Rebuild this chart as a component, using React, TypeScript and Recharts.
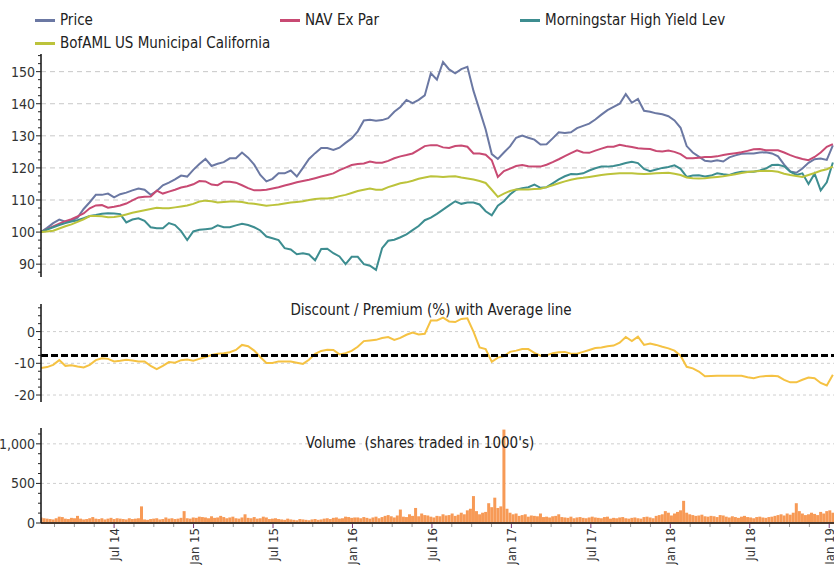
import React from 'react';
import {
  LineChart,
  ComposedChart,
  Line,
  Bar,
  XAxis,
  YAxis,
  CartesianGrid,
  ReferenceLine,
} from 'recharts';

const FONT = '"Liberation Sans Narrow", "DejaVu Sans Condensed", "Arial Narrow", "Liberation Sans", sans-serif';

// time axis in decimal years, first point ~15 Jan 2014
const START = 2014.04;
const X_DOMAIN = [2014.04, 2019.03];
const X_TICKS = [2014.5, 2015, 2015.5, 2016, 2016.5, 2017, 2017.5, 2018, 2018.5, 2019];
const X_LABELS = ['Jul 14', 'Jan 15', 'Jul 15', 'Jan 16', 'Jul 16', 'Jan 17', 'Jul 17', 'Jan 18', 'Jul 18', 'Jan 19'];

// fortnightly values, rebased to 100
const PRICE = [
  100, 101.3, 102.8, 103.9, 103.2, 103.6, 104.5, 107.2, 109.3, 111.6, 111.6, 112, 110.8, 111.8, 112.3, 113, 113.6, 113.2, 111.6, 112.8,
  114.6, 115.4, 116.4, 117.6, 117.3, 119.4, 121.2, 122.8, 120.6, 121.3, 121.8, 123, 123, 124.8, 123.2, 121, 117.8, 115.8, 116.6, 118.3,
  118.3, 119.2, 117.3, 120, 122.8, 124.6, 126.2, 126.2, 125.6, 126.3, 127.8, 129.2, 131.4, 134.8, 135, 134.7, 134.9, 135.5, 137.5, 139,
  141.2, 140.2, 141.2, 142.6, 149.5, 147.5, 153, 150.7, 149.5, 150.8, 151.5, 144, 138, 132, 124.3, 122.8, 124.8, 126.7, 129.4, 130.1,
  129.4, 128.8, 127.3, 127.4, 129.2, 131.1, 130.9, 131.1, 132.4, 133.1, 133.8, 135.1, 136.6, 138, 139, 140, 143, 140.3, 141.5, 137.8,
  137.5, 137, 136.7, 136.1, 134.8, 132.5, 126.8, 124.8, 123.5, 122.2, 122, 122.4, 122, 123.3, 123.9, 124.4, 124.5, 124.5, 124.8, 124.9,
  124.5, 123.6, 121, 118.9, 118.5, 119.8, 121.6, 122.7, 122.9, 122.5, 127,
];
const NAV = [
  100, 100.9, 101.8, 102.6, 103.4, 104, 104.9, 105.8, 107.4, 108.3, 108.4, 107.6, 107.9, 108.3, 108.9, 109.9, 110.8, 111, 111.1, 112.9,
  112, 112.6, 113.2, 113.9, 114.3, 114.9, 115.9, 115.8, 114.8, 114.6, 115.7, 115.7, 115.4, 114.6, 113.7, 113, 113, 113.2, 113.6, 114,
  114.5, 115, 115.5, 115.9, 116.3, 116.8, 117.3, 117.8, 118.3, 119.3, 120.1, 120.9, 121.2, 121.4, 122, 121.6, 121.6, 122.2, 123, 123.6,
  124, 124.5, 125.6, 126.8, 127.1, 127.1, 126.4, 126.2, 126.8, 127, 126.6, 124.5, 124.5, 124.1, 122.4, 117.2, 119, 119.8, 120.6, 120.9,
  120.5, 120.4, 120.4, 121, 121.8, 122.7, 123.7, 124.6, 125.5, 124.8, 124.7, 125.4, 126, 126.6, 126.6, 127.2, 126.8, 126.5, 126.1, 126,
  125.9, 125.3, 125.1, 125.4, 125, 124.3, 123, 123, 123.2, 123.4, 123.4, 123.6, 124, 124.3, 124.6, 124.9, 125.3, 125.8, 125.9, 125.5,
  125.5, 125.5, 124.8, 124, 123.3, 122.8, 122.4, 123.4, 124.8, 126.6, 127.4,
];
const MORNINGSTAR = [
  100, 100.8, 101.5, 102.2, 102.8, 103.3, 103.7, 104.3, 105, 105.3, 105.7, 105.9, 105.8, 105.6, 103, 103.9, 104.3, 103.5, 101.5, 101.2,
  101.2, 102.8, 102.2, 100.3, 97.5, 100.2, 100.7, 100.9, 101.1, 102.1, 101.5, 101.5, 102.1, 102.6, 102.2, 101.5, 100.5, 98.6, 98.1, 97.5,
  95, 94.6, 93.1, 93.4, 93, 91.2, 94.7, 94.8, 93.4, 92.4, 90, 92.3, 92.3, 90, 89.5, 88.2, 95, 97.3, 97.6, 98.4,
  99.3, 100.6, 101.9, 103.7, 104.5, 105.7, 107, 108.3, 109.6, 108.8, 109.2, 109.2, 108.6, 106.5, 105.2, 108.2, 109.6, 111.7, 113.2, 113.7,
  114, 114.8, 113.8, 114, 115.2, 116.4, 117.4, 118.1, 118, 118.3, 119.2, 119.9, 120.4, 120.4, 120.6, 121, 121.5, 121.9, 121.5, 119.7,
  119, 119.5, 120, 120.3, 120.8, 119.7, 117.2, 117.6, 117.7, 117.3, 117.6, 118.3, 118, 117.8, 118.4, 118.8, 118.8, 118.8, 119.2, 119.8,
  120.9, 121, 120.5, 118.8, 117.8, 118.3, 115, 118.2, 113, 115.5, 121.7,
];
const BOFAML = [
  100, 100.2, 100.4, 101.1, 101.8, 102.4, 103.2, 104, 105, 105, 104.9, 104.6, 104.7, 105, 105.5, 106, 106.4, 106.8, 107.2, 107.6,
  107.4, 107.4, 107.7, 108, 108.3, 108.8, 109.5, 109.8, 109.6, 109.2, 109.4, 109.5, 109.5, 109.4, 109, 108.8, 108.5, 108.2, 108.4, 108.6,
  108.9, 109.2, 109.4, 109.6, 110, 110.3, 110.5, 110.5, 110.7, 111.2, 111.6, 112.2, 112.8, 113.2, 113.6, 113.2, 113.2, 114, 114.6, 115.2,
  115.5, 116, 116.6, 117, 117.4, 117.3, 117.2, 117.3, 117.4, 117, 116.7, 116.4, 115.9, 115.3, 113.2, 111, 112, 112.8, 113.3, 113.3,
  113.3, 113.4, 113.5, 114, 114.6, 115.2, 115.8, 116.3, 116.7, 116.9, 117.2, 117.5, 117.8, 118, 118.2, 118.3, 118.3, 118.3, 118.2, 118.1,
  118.2, 118.3, 118.4, 118.5, 118.2, 117.8, 117, 116.8, 116.7, 116.8, 117, 117.2, 117.4, 117.7, 118, 118.4, 118.7, 118.9, 119, 119.1,
  119, 118.8, 118.2, 117.8, 117.5, 117.2, 117.8, 118.4, 119.1, 119.6, 120.4,
];
const DISCOUNT = [
  -11.5, -11.2, -10.5, -9, -10.8, -10.6, -11, -11.3, -10.5, -9, -8.4, -8.6, -9.4, -9.2, -8.9, -9.1, -9.4, -9.4, -10.8, -11.8,
  -10.8, -9.6, -9.8, -9, -8.8, -9.2, -8.6, -8, -7.4, -7, -6.8, -6.5, -5.8, -4.2, -4.6, -6, -8, -9.9, -9.9, -9.4,
  -9.4, -9.4, -9.8, -10.2, -8.9, -7, -6.1, -5.7, -5.8, -7.2, -6.8, -6.1, -4.8, -3, -2.8, -2.6, -2, -1.7, -2.6, -2,
  -1, -0.3, -0.9, -0.7, 3.5, 3.5, 4.4, 3.2, 3, 4, 4.2, 0, -5, -5.5, -9.5, -8.2, -7.7, -6.4, -6, -5.5,
  -5.5, -6.7, -7.6, -7.5, -6.8, -6.5, -6.4, -7, -7, -6.4, -5.8, -5.2, -5, -4.6, -4.4, -3.5, -1.7, -3, -1.6, -4.2,
  -3.8, -4.2, -4.8, -5.3, -6, -7.6, -11.1, -11.6, -12.6, -14.1, -14, -13.9, -13.9, -13.9, -13.9, -13.9, -14.4, -14.7, -14.2, -14,
  -13.9, -14.1, -15.2, -16, -16, -15.2, -14.5, -14.7, -16.2, -17, -13.6,
];
const DISCOUNT_AVG = -7.5;

// weekly volume, shares traded in 1000's
const VOLUME = [
  70, 60, 55, 50, 45, 60, 80, 75, 55, 50, 65, 60, 90, 55, 45, 50, 60, 75, 55, 50, 60, 45, 55, 65, 50, 60,
  55, 50, 45, 60, 50, 55, 60, 210, 45, 40, 50, 55, 60, 45, 50, 70, 55, 60, 50, 55, 65, 150, 60, 55, 70, 65,
  80, 75, 70, 60, 85, 65, 70, 90, 75, 60, 70, 80, 60, 55, 70, 110, 65, 60, 75, 55, 60, 80, 70, 50, 55, 60,
  50, 45, 40, 55, 45, 40, 35, 50, 45, 40, 35, 45, 50, 40, 45, 55, 60, 50, 65, 70, 55, 60, 80, 75, 65, 70,
  70, 60, 75, 65, 55, 70, 80, 60, 75, 90, 100, 85, 70, 95, 170, 80, 75, 110, 90, 190, 85, 120, 100, 95, 80, 70,
  90, 85, 110, 95, 100, 120, 90, 105, 130, 110, 160, 180, 340, 150, 110, 130, 140, 250, 200, 320, 190, 210, 1180, 180, 130, 110,
  120, 90, 100, 110, 80, 95, 90, 85, 120, 75, 80, 70, 85, 90, 110, 75, 70, 65, 80, 60, 70, 75, 65, 60, 70, 80,
  70, 65, 60, 75, 80, 55, 65, 60, 70, 75, 60, 55, 65, 70, 60, 55, 75, 80, 70, 60, 90, 100, 110, 150, 130, 95,
  120, 140, 160, 280, 130, 110, 100, 90, 95, 105, 85, 80, 90, 85, 75, 100, 95, 80, 70, 85, 75, 65, 80, 90, 75, 70,
  60, 75, 80, 70, 65, 75, 80, 90, 100, 110, 95, 120, 105, 130, 250, 150, 120, 100, 110, 130, 115, 100, 140, 120, 150, 160,
  130,
];

const SERIES = [
  { key: 'price', name: 'Price', color: '#6b78a3' },
  { key: 'nav', name: 'NAV Ex Par', color: '#c84a73' },
  { key: 'ms', name: 'Morningstar High Yield Lev', color: '#3d8d90' },
  { key: 'bof', name: 'BofAML US Municipal California', color: '#bcc33b' },
];

const PRICE_MAJOR = [90, 100, 110, 120, 130, 140, 150];
const DISC_MAJOR = [-20, -10, 0];
const VOL_MAJOR = [0, 500, 1000];

const steps = (from: number, to: number, step: number) => {
  const out: number[] = [];
  for (let v = from; v <= to + 1e-9; v += step) out.push(v);
  return out;
};

const lineData = PRICE.map((p, i) => ({
  t: START + (i * 14) / 365.25,
  price: p,
  nav: NAV[i],
  ms: MORNINGSTAR[i],
  bof: BOFAML[i],
  disc: DISCOUNT[i],
}));
const volData = VOLUME.map((v, i) => ({ t: START + (i * 7) / 365.25, v }));

function yTick(majors: number[], fmt: (v: number) => string = String) {
  return (props: any) => {
    const { x, y, payload } = props;
    const major = majors.includes(payload.value);
    return (
      <g>
        <line x1={x - (major ? 5 : 3)} x2={x} y1={y} y2={y} stroke="#222" strokeWidth={1} />
        {major && (
          <text x={x - 6} y={y} dy={5} textAnchor="end" fontSize={14} fill="#333" fontFamily={FONT}>
            {fmt(payload.value)}
          </text>
        )}
      </g>
    );
  };
}

// major ticks get a label, the 1.5-month minor ticks only a short grey mark
const XTick = (props: any) => {
  const { x, y, payload } = props;
  const idx = X_TICKS.indexOf(payload.value);
  if (idx < 0) {
    return <line x1={x} x2={x} y1={y + 1} y2={y + 4} stroke="#999" />;
  }
  const tx = x + 5;
  const ty = y + 5;
  return (
    <g>
      <line x1={x} x2={x} y1={y + 1} y2={y + 5} stroke="#7a3a7a" />
      <text x={tx} y={ty} textAnchor="end" transform={`rotate(-90, ${tx}, ${ty})`} fontSize={13} fill="#333" fontFamily={FONT}>
        {X_LABELS[idx]}
      </text>
    </g>
  );
};

const axisLine = { stroke: '#111', strokeWidth: 1.5 };

function LegendBox() {
  const pos = [
    { left: 35, top: 11 },
    { left: 280, top: 11 },
    { left: 520, top: 11 },
    { left: 35, top: 34 },
  ];
  return (
    <>
      {SERIES.map((s, i) => (
        <div
          key={s.key}
          style={{ position: 'absolute', ...pos[i], display: 'flex', alignItems: 'center', fontFamily: FONT, fontSize: 15, color: '#222', whiteSpace: 'nowrap' }}
        >
          <span style={{ display: 'inline-block', width: 20, height: 3, background: s.color, marginRight: 5 }} />
          {s.name}
        </div>
      ))}
    </>
  );
}

const titleStyle: React.CSSProperties = {
  position: 'absolute',
  fontFamily: FONT,
  fontSize: 15,
  color: '#222',
  whiteSpace: 'pre',
  transform: 'translateX(-50%)',
};

export default function App() {
  return (
    <div style={{ position: 'absolute', left: 0, top: 0, width: 834, height: 565, background: '#fff', overflow: 'hidden' }}>
      <LegendBox />

      <div style={{ position: 'absolute', left: 0, top: 0 }}>
        <LineChart width={834} height={290} data={lineData} margin={{ top: 54, right: 0, bottom: 13, left: 0 }}>
          <CartesianGrid vertical={false} horizontalValues={PRICE_MAJOR} stroke="#c8c8c8" strokeDasharray="5 4" />
          <XAxis type="number" dataKey="t" domain={X_DOMAIN} hide allowDataOverflow />
          <YAxis
            type="number"
            domain={[86, 155.5]}
            ticks={steps(87.5, 155, 2.5)}
            interval={0}
            tick={yTick(PRICE_MAJOR)}
            tickLine={false}
            tickSize={0}
            tickMargin={0}
            axisLine={axisLine}
            width={41}
            allowDataOverflow
          />
          {SERIES.map((s) => (
            <Line key={s.key} type="linear" dataKey={s.key} name={s.name} stroke={s.color} strokeWidth={2} dot={false} isAnimationActive={false} />
          ))}
        </LineChart>
      </div>

      <div style={{ position: 'absolute', left: 0, top: 290 }}>
        <LineChart width={834} height={125} data={lineData} margin={{ top: 14, right: 0, bottom: 13, left: 0 }}>
          <CartesianGrid vertical={false} horizontalValues={DISC_MAJOR} stroke="#cfcfcf" strokeDasharray="3 3" />
          <XAxis type="number" dataKey="t" domain={X_DOMAIN} hide allowDataOverflow />
          <YAxis
            type="number"
            domain={[-22.2, 8.7]}
            ticks={steps(-20, 7.5, 2.5)}
            interval={0}
            tick={yTick(DISC_MAJOR)}
            tickLine={false}
            tickSize={0}
            tickMargin={0}
            axisLine={axisLine}
            width={41}
            allowDataOverflow
          />
          <Line type="linear" dataKey="disc" stroke="#f5c243" strokeWidth={2} dot={false} isAnimationActive={false} />
          <ReferenceLine y={DISCOUNT_AVG} stroke="#000" strokeWidth={3} strokeDasharray="7 3" />
        </LineChart>
      </div>
      <div style={{ ...titleStyle, left: 431, top: 301 }}>Discount / Premium (%) with Average line</div>

      <div style={{ position: 'absolute', left: 0, top: 415 }}>
        <ComposedChart width={834} height={150} data={volData} margin={{ top: 13, right: 0, bottom: 0, left: 0 }}>
          <CartesianGrid vertical={false} horizontalValues={[500, 1000]} stroke="#cfcfcf" strokeDasharray="3 3" />
          <XAxis
            type="number"
            dataKey="t"
            domain={X_DOMAIN}
            ticks={steps(2014.125, 2019, 0.125)}
            interval={0}
            tick={XTick}
            tickLine={false}
            tickSize={0}
            tickMargin={0}
            axisLine={{ stroke: '#4a3a2e', strokeWidth: 2 }}
            height={42}
            allowDataOverflow
          />
          <YAxis
            type="number"
            domain={[0, 1200]}
            ticks={steps(0, 1125, 125)}
            interval={0}
            tick={yTick(VOL_MAJOR, (v) => v.toLocaleString('en-US'))}
            tickLine={false}
            tickSize={0}
            tickMargin={0}
            axisLine={axisLine}
            width={41}
            allowDataOverflow
          />
          <Bar dataKey="v" fill="#f79a56" barSize={3} isAnimationActive={false} />
        </ComposedChart>
      </div>
      <div style={{ ...titleStyle, left: 420, top: 434 }}>{'Volume  (shares traded in 1000\'s)'}</div>
    </div>
  );
}
